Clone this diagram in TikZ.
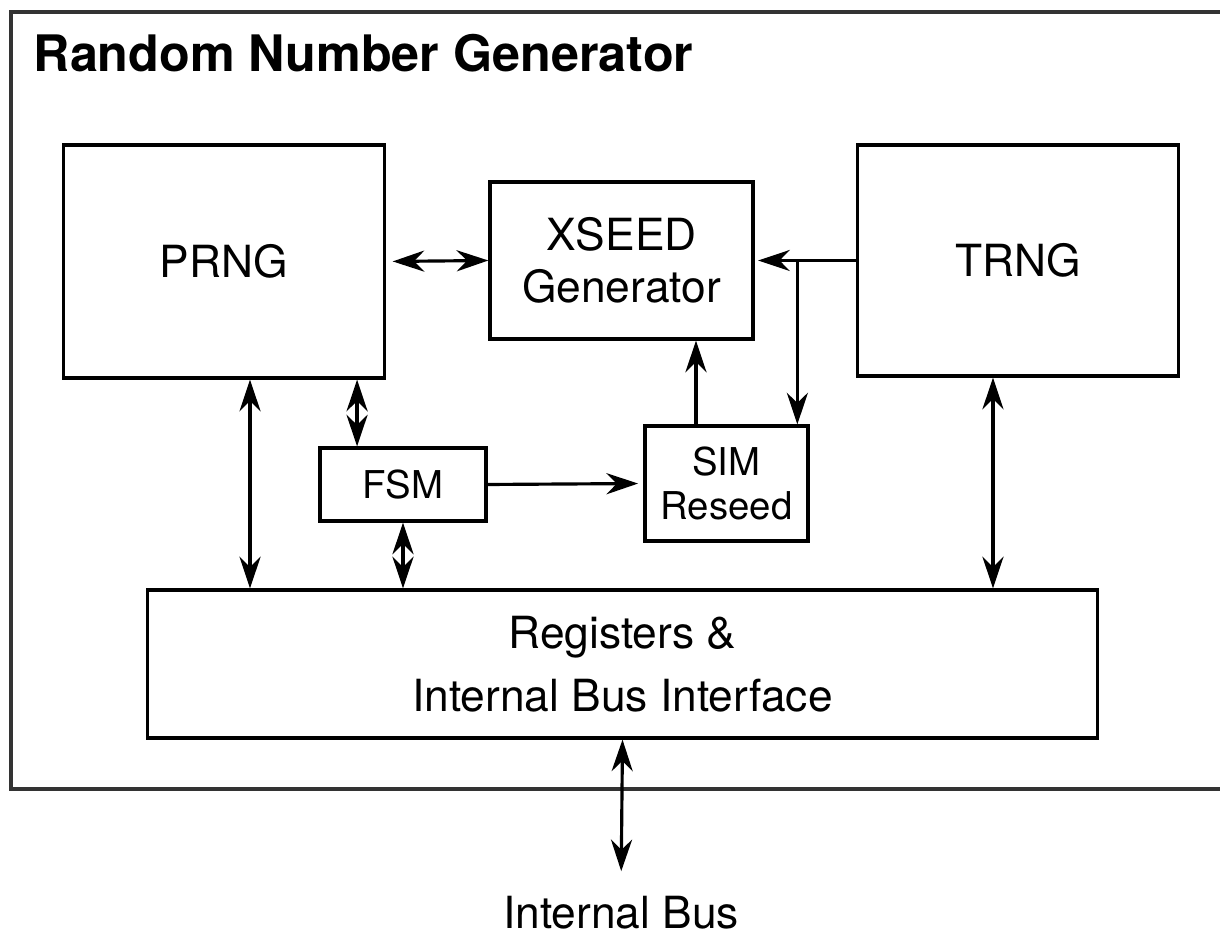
\documentclass[tikz,border=0pt]{standalone}
\usepackage{fontspec}
\setmainfont{TeX Gyre Heros}
\usepackage{tikz}
\usetikzlibrary{arrows.meta,calc}

\begin{document}
\begin{tikzpicture}[x=0.01cm,y=-0.01cm,
  >={Stealth[length=9pt,width=6pt]},
  block/.style={draw,line width=0.9pt,align=center,inner sep=0pt,
    font=\fontsize{12.6}{14.8}\selectfont},
  small block/.style={block,font=\fontsize{10.9}{12.5}\selectfont},
  link/.style={line width=0.9pt}]
  \useasboundingbox (0,0) rectangle (1220,937);
  % frame, its right side is cut off
  \draw[line width=1pt,black!80] (1230,12) -- (11,12) -- (11,789) -- (1230,789);
  \node[anchor=base west,inner sep=0pt,font=\fontsize{14.3}{17}\selectfont\bfseries] (title)
    at (33,72) {Random Number Generator};

  \node[block,minimum width=3.2cm,minimum height=2.33cm] (prng) at (224,261.5) {PRNG};
  \node[block,minimum width=2.63cm,minimum height=1.57cm] (xseed) at (621.5,260.5) {XSEED\\Generator};
  \node[block,minimum width=3.2cm,minimum height=2.31cm] (trng) at (1018,260.5) {TRNG};
  \node[small block,minimum width=1.66cm,minimum height=0.73cm] (fsm) at (403,484.5) {FSM};
  \node[small block,minimum width=1.63cm,minimum height=1.15cm] (sim) at (726.5,483.5) {SIM\\Reseed};
  \node[block,minimum width=9.49cm,minimum height=1.48cm] (regs) at (622.5,664)
    {Registers \&\\[3pt] Internal Bus Interface};
  \node[font=\fontsize{12.6}{14.8}\selectfont,inner sep=0pt] (bus) at (621,913) {Internal Bus};

  \draw[link,<->,shorten <=2pt] (prng.east) -- (xseed.west);
  \draw[link,->,shorten >=1pt] (trng.west) -- (xseed.east);
  \coordinate (split) at ($(xseed.east)!0.42!(trng.west)$);
  \draw[link,->] (split) -- (split |- sim.north);
  \draw[link,->] ([xshift=-0.305cm]sim.north) -- ([xshift=-0.305cm]sim.north |- xseed.south);
  \draw[link,->,shorten >=1.5pt] (fsm.east) -- (sim.west);
  \draw[link,<->] ([xshift=1.33cm]prng.south) -- ([xshift=1.33cm]prng.south |- fsm.north);
  \draw[link,<->] (fsm.south) -- (fsm.south |- regs.north);
  \draw[link,<->] ([xshift=0.26cm]prng.south) -- ([xshift=0.26cm]prng.south |- regs.north);
  \draw[link,<->] ([xshift=-0.25cm]trng.south) -- ([xshift=-0.25cm]trng.south |- regs.north);
  \draw[link,<->,shorten >=7pt] (regs.south) -- (bus.north);
\end{tikzpicture}
\end{document}
